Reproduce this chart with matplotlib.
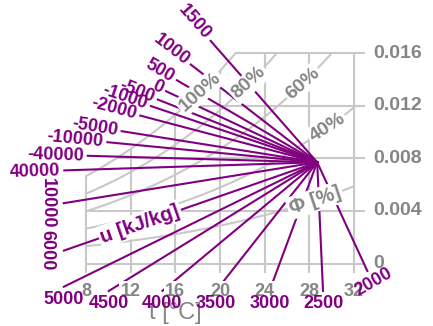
import matplotlib
matplotlib.use('Agg')
import matplotlib.pyplot as plt
import numpy as np

plt.rcParams['font.family'] = ['Liberation Sans', 'DejaVu Sans']

# protractor values, enthalpy/moisture ratio in kJ/kg
u_values = [1500, 1000, 500, 0, -500, -1000, -2000, -5000, -10000, -40000,
            40000, 10000, 6000, 5000, 4500, 4000, 3500, 3000, 2500, 2000]
# how each label sits at the end of its ray
label_mode = ['ray'] * 11 + ['left', 'left'] + ['down'] * 6 + ['perp']

t_ticks = [8, 12, 16, 20, 24, 28, 32]
x_ticks = [0, 0.004, 0.008, 0.012, 0.016]
x_tick_labels = ['0', '0.004', '0.008', '0.012', '0.016']
rh_curves = [1.0, 0.8, 0.6, 0.4, 0.2]
rh_labels = ['100%', '80%', '60%', '40%']
rh_label_t = [18.2, 22.6, 27.4, 29.6]

center_t, center_x = 28.7, 0.0077

PURPLE = '#800080'
GRAY = '#858585'
GRID = '#c8c8c8'
P = 101.325
T_MIN, T_MAX, X_MAX = 8, 32, 0.016
# outline the rays stop at
T_LEFT, T_RIGHT, X_BOT, SAT_SCALE = 6.0, 33.2, -0.00209, 1.22


def p_sat(t):
    return 0.6112 * np.exp(17.62 * t / (243.12 + t))


def x_rh(t, phi):
    ps = phi * p_sat(t)
    return 0.622 * ps / (P - ps)


t_dense = np.linspace(-10, 45, 5501)


def t_of_x(x, phi=1.0):
    return np.interp(x, x_rh(t_dense, phi), t_dense)


fig = plt.figure(figsize=(4.33, 3.26), dpi=100)
ax = fig.add_axes([0, 0, 1, 1])
ax.set_xlim(0.30, 39.07)
ax.set_ylim(-0.00475, 0.02004)
ax.axis('off')

to_px = ax.transData.transform
(px0, py0), (px1, py1) = to_px([(0, 0), (1, 0.001)])
st = px1 - px0           # px per degC
sx = (py1 - py0) / 0.001  # px per kg/kg
pt = 72 / fig.dpi         # px -> points


def screen_angle(t, x, dt, dx):
    a, b = to_px([(t, x), (t + dt, x + dx)])
    return np.degrees(np.arctan2(b[1] - a[1], b[0] - a[0]))


# grid, only below the saturation line
for t in t_ticks:
    top = min(x_rh(t, 1.0), X_MAX)
    ax.plot([t, t], [-0.0007, top], color=GRID, lw=1.5, zorder=1, solid_capstyle='butt')
for x in x_ticks:
    left = max(T_MIN, t_of_x(x))
    ax.plot([left, 33.0], [x, x], color=GRID, lw=1.5, zorder=1, solid_capstyle='butt')

# relative humidity curves
for phi in rh_curves:
    t_end = min(T_MAX, t_of_x(X_MAX, phi))
    tt = np.linspace(T_MIN, t_end, 300)
    ax.plot(tt, x_rh(tt, phi), color=GRID, lw=1.5, zorder=1)

box = dict(boxstyle='square,pad=0.1', fc='white', ec='none')
for lab, t in zip(rh_labels, rh_label_t):
    phi = float(lab.rstrip('%')) / 100
    x = x_rh(t, phi)
    rot = screen_angle(t, x, 0.5, x_rh(t + 0.5, phi) - x) - 3
    ax.text(t, x, lab, rotation=rot, rotation_mode='anchor', ha='center', va='center',
            color=GRAY, fontsize=14, fontweight='bold', bbox=box, zorder=3)

t_phi = 28.5
x_phi = x_rh(t_phi, 0.2)
rot = screen_angle(t_phi, x_phi, 0.5, x_rh(t_phi + 0.5, 0.2) - x_phi)
ax.text(t_phi, x_phi, 'Φ [%]', rotation=rot, rotation_mode='anchor', ha='center', va='center',
        color=GRAY, fontsize=14.5, fontweight='bold', bbox=box, zorder=3)

# protractor rays
steps = np.arange(0, 450, 0.25)
ray_ends = {}
for u, mode in zip(u_values, label_mode):
    m = (u - 2501 - 1.86 * center_t) / (1.006 + 1.86 * center_x)
    sgn = 1 if u < 1750 else -1
    d = np.array([m * sgn * st, sgn * sx])
    d /= np.hypot(*d)
    tt = center_t + steps * d[0] / st
    xx = center_x + steps * d[1] / sx
    out = (tt < T_LEFT) | (tt > T_RIGHT) | (xx < X_BOT) | (xx > SAT_SCALE * x_rh(tt, 1.0))
    k = max(np.argmax(out) - 1, 1)
    ax.plot([center_t, tt[k]], [center_x, xx[k]], color=PURPLE, lw=1.5, zorder=2)
    ray_ends[u] = (tt[k], xx[k], d)

    ang = np.degrees(np.arctan2(d[1], d[0]))
    gap = 3
    if mode == 'ray':
        rot = ang - 180 if abs(ang) > 90 else ang
        ha, va = ('right' if abs(ang) > 90 else 'left'), 'center'
        off = d * gap
    elif mode == 'down':
        rot, ha, va, off = 0, 'center', 'top', (0, -gap)
    elif mode == 'left':
        rot, ha, va, off = -90, 'center', 'top', (-6, 0)
    else:
        rot, ha, va, off = ang + 95, 'center', 'top', d * gap
    ax.annotate(f'{u}', xy=(tt[k], xx[k]), xytext=tuple(off), textcoords='offset points',
                rotation=rot, rotation_mode='anchor', ha=ha, va=va,
                color=PURPLE, fontsize=13, fontweight='bold', zorder=4)

# unit label along the 6000 ray
t6, x6, d6 = ray_ends[6000]
f = 0.70
ang = np.degrees(np.arctan2(d6[1], d6[0])) - 180
ax.text(center_t + f * (t6 - center_t), center_x + f * (x6 - center_x), 'u [kJ/kg]',
        rotation=ang, rotation_mode='anchor', ha='center', va='center',
        color=PURPLE, fontsize=14.5, fontweight='bold', bbox=box, zorder=3)

# tick labels
for t in t_ticks:
    ax.annotate(str(t), xy=(t, 0), xytext=(0, -28 * pt), textcoords='offset points',
                ha='center', va='center', color=GRAY, fontsize=13, fontweight='bold',
                bbox=box, zorder=3)
for x, lab in zip(x_ticks, x_tick_labels):
    ax.annotate(lab, xy=(32, x), xytext=(19 * pt, 0), textcoords='offset points',
                ha='left', va='center', color=GRAY, fontsize=14, fontweight='bold',
                bbox=box, zorder=3)
ax.annotate('t [°C]', xy=(16, 0), xytext=(0, -38 * pt), textcoords='offset points',
            ha='center', va='top', color=GRAY, fontsize=17)

fig.savefig('out.png', dpi=100)
